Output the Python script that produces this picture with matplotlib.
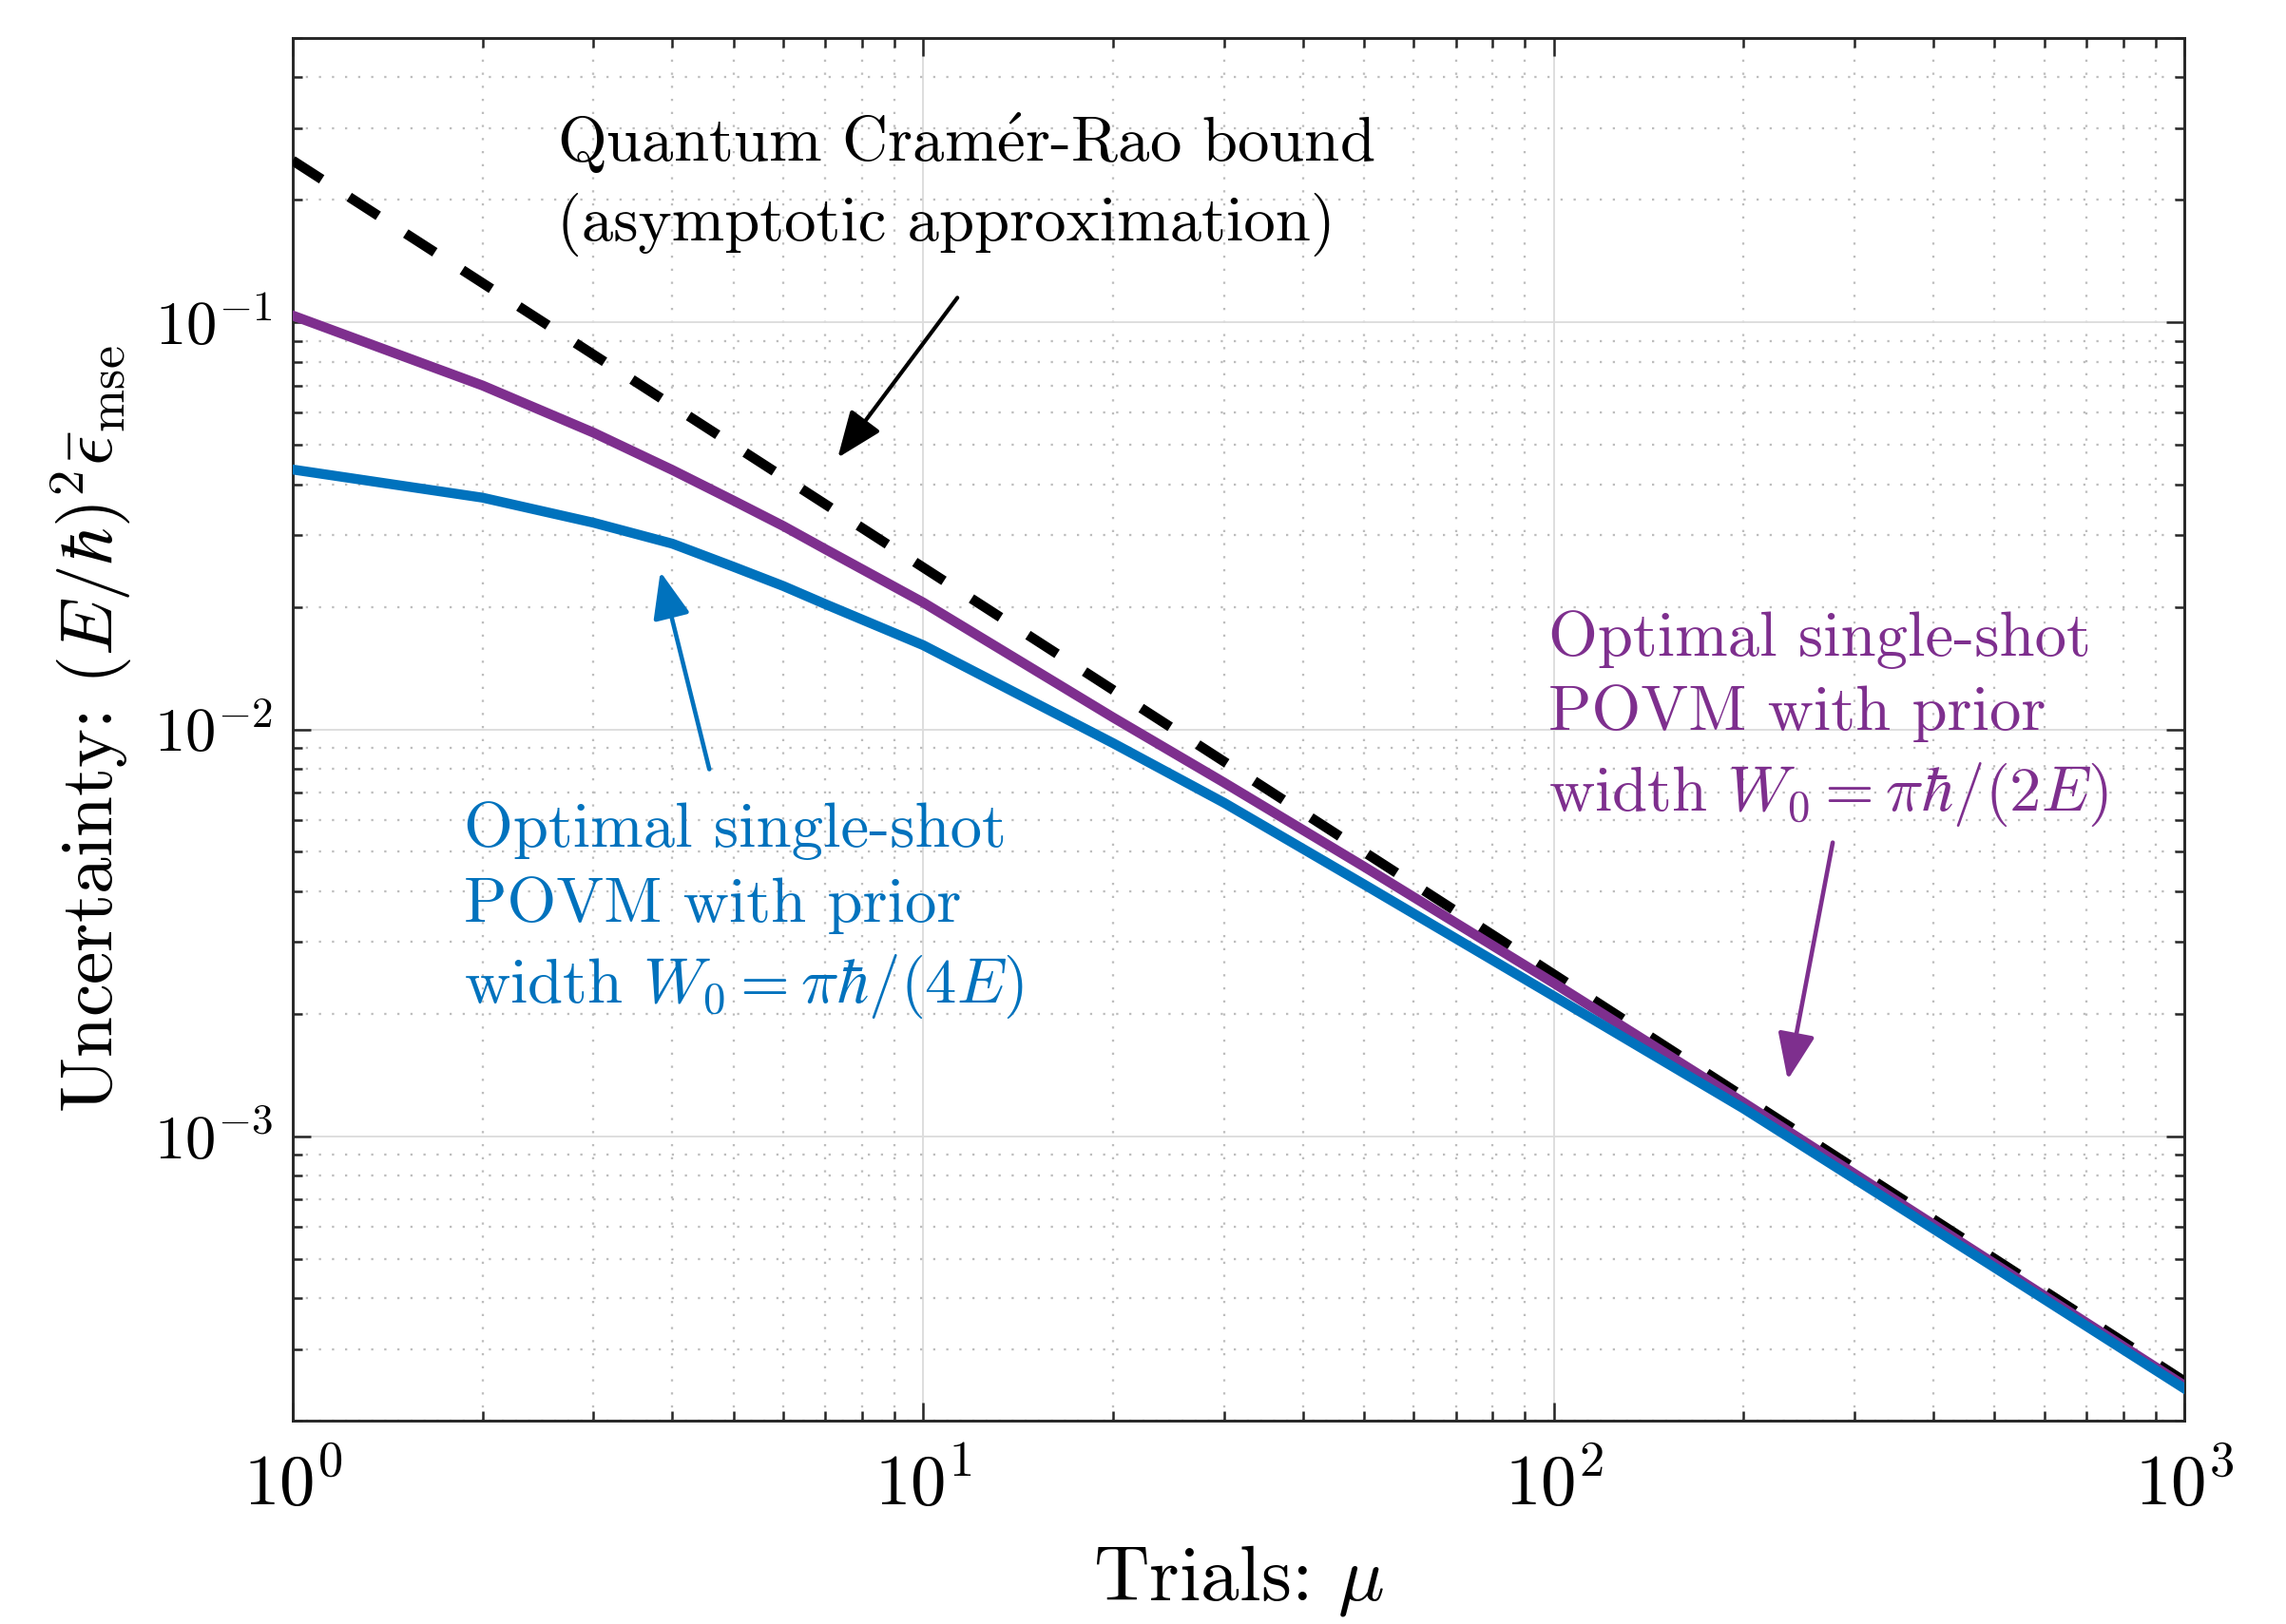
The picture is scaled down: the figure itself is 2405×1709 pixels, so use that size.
import numpy as np
import matplotlib
matplotlib.use("Agg")
import matplotlib.pyplot as plt

# ---------- fonter (LaTeX-utseende) ----------
plt.rcParams["font.family"] = ["cmr10", "DejaVu Serif"]
plt.rcParams["mathtext.fontset"] = "cm"
plt.rcParams["axes.formatter.use_mathtext"] = True
plt.rcParams["axes.unicode_minus"] = False

# ---------- data lest av figuren ----------
mu = [1, 2, 3, 4, 5, 6, 7, 10, 20, 30, 50, 100, 200, 500, 1000]
povm_2E = [0.104, 0.0700, 0.0536, 0.0434, 0.0365, 0.0316, 0.0277, 0.0205,
           0.0107, 0.0074, 0.0046, 0.00238, 0.00121, 0.000486, 0.000244]
povm_4E = [0.0435, 0.0371, 0.0322, 0.0286, 0.0251, 0.0225, 0.0203, 0.0161,
           0.00925, 0.0066, 0.00416, 0.00221, 0.00117, 0.000476, 0.000240]
mu_qcrb = [1, 1000]
qcrb = [0.25, 0.00025]

blaa = "#0072BD"
lilla = "#7E2F8E"

fig = plt.figure(figsize=(2405/300, 1709/300), dpi=300)
ax = fig.add_axes([0.128, 0.1252, 0.8275, 0.8514])

ax.plot(mu_qcrb, qcrb, color="black", lw=2.5, dashes=(3.5, 3.3), dash_capstyle="butt", zorder=3)
ax.plot(mu, povm_2E, color=lilla, lw=2.5, zorder=4)
ax.plot(mu, povm_4E, color=blaa, lw=2.5, zorder=4)

ax.set_xscale("log")
ax.set_yscale("log")
ax.set_xlim(1, 1000)
ax.set_ylim(2e-4, 0.5)

# grid i MATLAB-stil
ax.grid(True, which="major", color="#dcdcdc", lw=0.45, ls="-")
ax.grid(True, which="minor", color="#bdbdbd", lw=0.55, ls=(0, (1, 5)))
ax.set_axisbelow(True)

ax.tick_params(which="both", direction="in", top=True, right=True, color="#262626")
ax.tick_params(which="major", length=4.5, width=0.6)
ax.tick_params(which="minor", length=2.5, width=0.6)
ax.tick_params(axis="x", which="major", labelsize=18, pad=8)
ax.tick_params(axis="y", which="major", labelsize=15.5, pad=5)
for s in ax.spines.values():
    s.set_color("#262626")
    s.set_linewidth(0.7)

ax.set_xlabel(r"Trials: $\mu$", fontsize=19.5, labelpad=6)
ax.set_ylabel(r"Uncertainty: $(E/\hbar)^2\bar{\epsilon}_{\rm mse}$", fontsize=18.6, labelpad=5)

# ---------- tekst og piler ----------
pil = "-|>,head_length=1.0,head_width=0.4"

ax.text(2.63, 0.219, "Quantum Cram" + r"$\mathrm{\acute{e}}$" + "r-Rao bound\n(asymptotic approximation)",
        fontsize=16, color="black", ha="left", va="center", linespacing=1.35)
ax.annotate("", xy=(7.32, 0.0465), xytext=(11.33, 0.115),
            arrowprops=dict(arrowstyle=pil, color="black", lw=1.0, shrinkA=0, shrinkB=0))

ax.text(1.87, 0.00358, "Optimal single-shot\nPOVM with prior\n" + r"width $W_0=\pi\hbar/(4E)$",
        fontsize=16, color=blaa, ha="left", va="center", linespacing=1.35)
ax.annotate("", xy=(3.83, 0.0244), xytext=(4.58, 0.00798),
            arrowprops=dict(arrowstyle=pil, color=blaa, lw=1.1, shrinkA=0, shrinkB=0))

ax.text(98, 0.0106, "Optimal single-shot\nPOVM with prior\n" + r"width $W_0=\pi\hbar/(2E)$",
        fontsize=16, color=lilla, ha="left", va="center", linespacing=1.35)
ax.annotate("", xy=(235, 0.001376), xytext=(277, 0.00527),
            arrowprops=dict(arrowstyle=pil, color=lilla, lw=1.1, shrinkA=0, shrinkB=0))

fig.savefig("out.png", dpi=300)
